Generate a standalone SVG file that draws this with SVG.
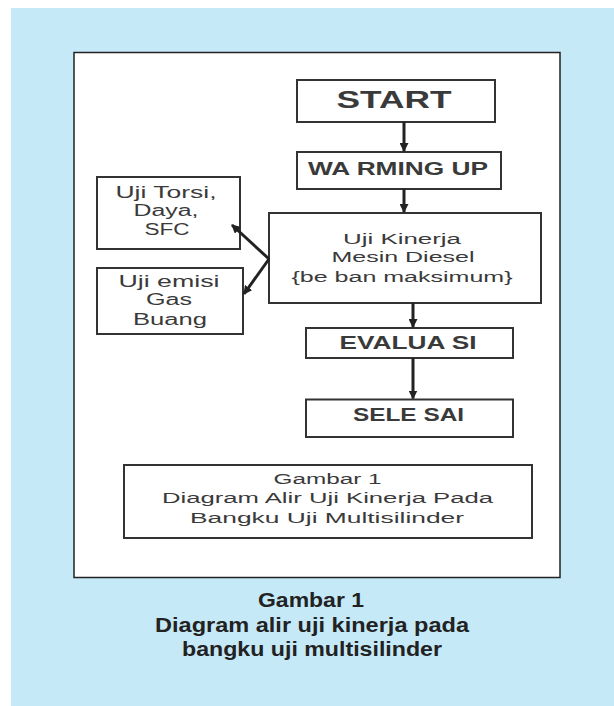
<svg xmlns="http://www.w3.org/2000/svg" width="614" height="706" viewBox="0 0 614 706">
<style>
.box{fill:#fff;stroke:#333;stroke-width:2}
.t{font-family:"Liberation Sans",Arial,sans-serif;fill:#3a3a3a;text-anchor:middle}
.b{font-weight:bold}
.cap{font-family:"Liberation Sans",Arial,sans-serif;fill:#222;font-weight:bold;text-anchor:middle;font-size:20px}
.c{stroke:#222;stroke-width:3;fill:none}
</style>
<defs>
<marker id="ah" markerUnits="userSpaceOnUse" markerWidth="9" markerHeight="9" refX="8" refY="4.5" orient="auto">
<path d="M0,0 L9,4.5 L0,9 z" fill="#222"/>
</marker>
</defs>
<rect x="0" y="0" width="614" height="706" fill="#fff"/>
<rect x="11" y="8" width="603" height="698" fill="#c6e9f8"/>
<rect x="74" y="52.5" width="486" height="525" fill="#fff" stroke="#222" stroke-width="1.5"/>

<g id="start"><rect class="box" x="297" y="80" width="198" height="42"/>
<text class="t b" x="394" y="108" font-size="24" textLength="115" lengthAdjust="spacingAndGlyphs">START</text></g>

<g id="warming"><rect class="box" x="297" y="152" width="204" height="37"/>
<text class="t b" x="398" y="175" font-size="19" textLength="180" lengthAdjust="spacingAndGlyphs">WA RMING UP</text></g>

<g id="kinerja"><rect class="box" x="269" y="213" width="272" height="90"/>
<text class="t" x="402" y="244" font-size="15.5" textLength="118" lengthAdjust="spacingAndGlyphs">Uji Kinerja</text>
<text class="t" x="403" y="262" font-size="15.5" textLength="143" lengthAdjust="spacingAndGlyphs">Mesin Diesel</text>
<text class="t" x="402" y="282" font-size="15.5" textLength="221" lengthAdjust="spacingAndGlyphs">{be ban maksimum}</text></g>

<g id="torsi"><rect class="box" x="97" y="177" width="143" height="72"/>
<text class="t" x="166" y="198" font-size="16" textLength="101" lengthAdjust="spacingAndGlyphs">Uji Torsi,</text>
<text class="t" x="166" y="216" font-size="16" textLength="65" lengthAdjust="spacingAndGlyphs">Daya,</text>
<text class="t" x="167" y="235" font-size="16" textLength="45" lengthAdjust="spacingAndGlyphs">SFC</text></g>

<g id="emisi"><rect class="box" x="97" y="268" width="146" height="66"/>
<text class="t" x="169" y="287" font-size="16" textLength="101" lengthAdjust="spacingAndGlyphs">Uji emisi</text>
<text class="t" x="169" y="305" font-size="16" textLength="46" lengthAdjust="spacingAndGlyphs">Gas</text>
<text class="t" x="170" y="325" font-size="16" textLength="74" lengthAdjust="spacingAndGlyphs">Buang</text></g>

<g id="evaluasi"><rect class="box" x="306" y="328" width="207" height="30"/>
<text class="t b" x="408" y="349" font-size="18" textLength="137" lengthAdjust="spacingAndGlyphs">EVALUA SI</text></g>

<g id="selesai"><rect class="box" x="306" y="399.5" width="207" height="37.5"/>
<text class="t b" x="408.5" y="421" font-size="18" textLength="111" lengthAdjust="spacingAndGlyphs">SELE SAI</text></g>

<g id="gambar-box"><rect class="box" x="124" y="465" width="408" height="73"/>
<text class="t" x="327.5" y="484" font-size="15.5" textLength="108" lengthAdjust="spacingAndGlyphs">Gambar 1</text>
<text class="t" x="327.5" y="503" font-size="15.5" textLength="331" lengthAdjust="spacingAndGlyphs">Diagram Alir Uji Kinerja Pada</text>
<text class="t" x="327" y="523" font-size="15.5" textLength="274" lengthAdjust="spacingAndGlyphs">Bangku Uji Multisilinder</text></g>

<g id="connectors">
<line class="c" x1="404" y1="122" x2="404" y2="151" marker-end="url(#ah)"/>
<line class="c" x1="404" y1="189" x2="404" y2="212" marker-end="url(#ah)"/>
<line class="c" x1="413" y1="303" x2="413" y2="327" marker-end="url(#ah)"/>
<line class="c" x1="413" y1="358" x2="413" y2="398.5" marker-end="url(#ah)"/>
<line class="c" x1="269" y1="259" x2="232" y2="225" marker-end="url(#ah)"/>
<line class="c" x1="269" y1="259" x2="244" y2="294" marker-end="url(#ah)"/>
</g>

<g id="caption">
<text class="cap" x="311" y="607" textLength="106" lengthAdjust="spacingAndGlyphs">Gambar 1</text>
<text class="cap" x="312" y="632" textLength="314" lengthAdjust="spacingAndGlyphs">Diagram alir uji kinerja pada</text>
<text class="cap" x="312" y="656" textLength="260" lengthAdjust="spacingAndGlyphs">bangku uji multisilinder</text>
</g>
</svg>
